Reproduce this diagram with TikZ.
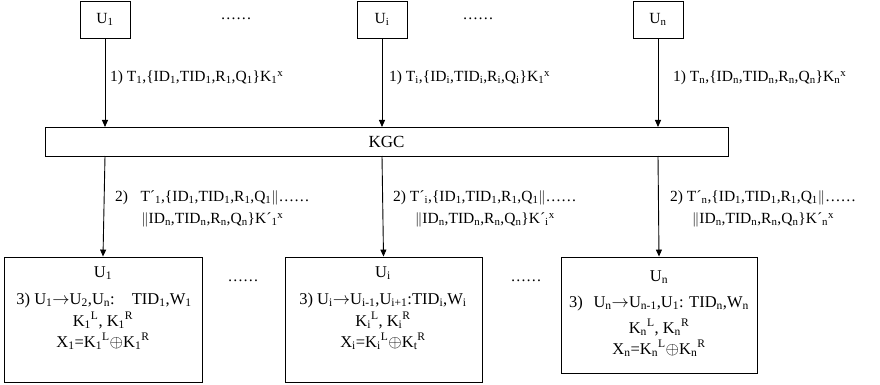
\documentclass[tikz,border=0pt]{standalone}
\usepackage{fontspec}
\setmainfont{Liberation Serif}
\usetikzlibrary{arrows.meta}
\newcommand\sbs[1]{\textsubscript{#1}}
\newcommand\sps[1]{\textsuperscript{#1}}
\newcommand\dpar{$\|$}
\newcommand\rarr{$\rightarrow$}
\newcommand\xor{$\oplus$}
\begin{document}
\begin{tikzpicture}[x=1pt,y=-1pt,
  every node/.style={font=\fontsize{15.5}{22}\selectfont, inner sep=0pt},
  ubox/.style={draw, line width=0.9pt, minimum width=50pt, minimum height=37pt},
  bigbox/.style={draw, line width=0.9pt},
  lbl/.style={anchor=west, align=center},
  boxtext/.style={anchor=base, font=\fontsize{16.5}{21}\selectfont},
  arr/.style={line width=0.9pt, -{Triangle[length=7pt,width=6pt]}},
  dots/.style={}]
\useasboundingbox (0,0) rectangle (880,385);
% top user boxes
\node[ubox] (u1) at (105,19.5) {U\sbs{1}};
\node[ubox] (ui) at (382,19.5) {U\sbs{i}};
\node[ubox] (un) at (658,19.5) {U\sbs{n}};
\node[dots] (d1) at (236,19) {……};
\node[dots] (d2) at (478,19) {……};
% KGC
\node[bigbox, minimum width=683pt, minimum height=29pt, font=\fontsize{17}{21}\selectfont] (kgc) at (386.5,141.5) {KGC};
% bottom boxes
\node[bigbox, minimum width=198pt, minimum height=125pt] (b1) at (103,319.5) {};
\node[bigbox, minimum width=197pt, minimum height=125pt] (bi) at (383.5,319.5) {};
\node[bigbox, minimum width=196pt, minimum height=116pt] (bn) at (659,315) {};
\node[dots] (d3) at (243,281) {……};
\node[dots] (d4) at (526,281) {……};
% arrows
\coordinate (k1t) at (105,127); \coordinate (k1b) at (105,156);
\coordinate (kit) at (382,127); \coordinate (kib) at (382,156);
\coordinate (knt) at (658,127); \coordinate (knb) at (658,156);
\draw[arr] (u1.south) -- (k1t);
\draw[arr] (ui.south) -- (kit);
\draw[arr] (un.south) -- (knt);
\draw[arr] (k1b) -- (b1.north);
\draw[arr] (kib) -- (bi.north);
\draw[arr] (knb) -- (bn.north);
% step 1 labels
\node[lbl] (l11) at (110,78) {1) T\sbs{1},\{ID\sbs{1},TID\sbs{1},R\sbs{1},Q\sbs{1}\}K\sbs{1}\sps{x}};
\node[lbl] (l1i) at (389,78) {1) T\sbs{i},\{ID\sbs{i},TID\sbs{i},R\sbs{i},Q\sbs{i}\}K\sbs{1}\sps{x}};
\node[lbl] (l1n) at (673,78) {1) T\sbs{n},\{ID\sbs{n},TID\sbs{n},R\sbs{n},Q\sbs{n}\}K\sbs{n}\sps{x}};
% step 2 labels
\node[lbl] (l21) at (115,209) {2)\hspace{0.8em}T´\sbs{1},\{ID\sbs{1},TID\sbs{1},R\sbs{1},Q\sbs{1}\dpar……\\
  \dpar ID\sbs{n},TID\sbs{n},R\sbs{n},Q\sbs{n}\}K´\sbs{1}\sps{x}};
\node[lbl] (l2i) at (393,209) {2) T´\sbs{i},\{ID\sbs{1},TID\sbs{1},R\sbs{1},Q\sbs{1}\dpar……\\
  \dpar ID\sbs{n},TID\sbs{n},R\sbs{n},Q\sbs{n}\}K´\sbs{i}\sps{x}};
\node[lbl] (l2n) at (670,209) {2) T´\sbs{n},\{ID\sbs{1},TID\sbs{1},R\sbs{1},Q\sbs{1}\dpar……\\
  \dpar ID\sbs{n},TID\sbs{n},R\sbs{n},Q\sbs{n}\}K´\sbs{n}\sps{x}};
% box 1 text
\node[boxtext] (t1a) at (103,277) {U\sbs{1}};
\node[boxtext] (t1b) at (104,304) {3) U\sbs{1}\rarr U\sbs{2},U\sbs{n}:\hspace{0.7em} TID\sbs{1},W\sbs{1}};
\node[boxtext] (t1c) at (103,326) {K\sbs{1}\sps{L}, K\sbs{1}\sps{R}};
\node[boxtext] (t1d) at (103,347) {X\sbs{1}=K\sbs{1}\sps{L}\xor K\sbs{1}\sps{R}};
% box i text
\node[boxtext] (tia) at (383,277) {U\sbs{i}};
\node[boxtext] (tib) at (383,304) {3) U\sbs{i}\rarr U\sbs{i-1},U\sbs{i+1}:TID\sbs{i},W\sbs{i}};
\node[boxtext] (tic) at (383,326) {K\sbs{i}\sps{L}, K\sbs{i}\sps{R}};
\node[boxtext] (tid) at (383,347) {X\sbs{i}=K\sbs{i}\sps{L}\xor K\sbs{t}\sps{R}};
% box n text
\node[boxtext] (tna) at (659,281) {U\sbs{n}};
\node[boxtext] (tnb) at (659,307) {3)\hspace{0.4em} U\sbs{n}\rarr U\sbs{n-1},U\sbs{1}: TID\sbs{n},W\sbs{n}};
\node[boxtext] (tnc) at (659,333) {K\sbs{n}\sps{L}, K\sbs{n}\sps{R}};
\node[boxtext] (tnd) at (659,354) {X\sbs{n}=K\sbs{n}\sps{L}\xor K\sbs{n}\sps{R}};
\end{tikzpicture}
\end{document}
